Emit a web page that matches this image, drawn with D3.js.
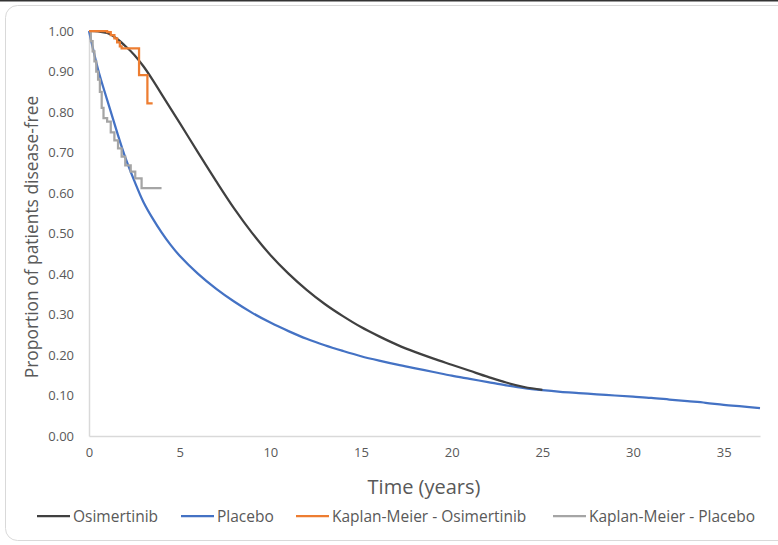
<!DOCTYPE html>
<html><head><meta charset="utf-8">
<script src="https://cdn.jsdelivr.net/npm/d3@7"></script>
<style>body{margin:0;background:#fff}svg{display:block}</style>
</head><body><svg id="c" width="778" height="545"></svg>
<script>
// Modelled curves
const osiTimes = [0,0.5,1,1.5,2,2.5,3,3.5,4,5,6,7,8,9,10,11,12,13,14,15,16,17,18,19,20,21,22,23,24,25];
const osiValues = [1.000,0.999,0.995,0.982,0.963,0.941,0.913,0.880,0.844,0.773,0.701,0.630,0.562,0.501,0.447,0.401,0.361,0.326,0.296,0.269,0.246,0.225,0.207,0.191,0.176,0.161,0.146,0.132,0.121,0.114];
const placeboTimes = [0,0.5,1,1.5,2,2.5,3,3.5,4,4.5,5,6,7,8,9,10,11,12,13,14,15,16,17,18,19,20,21,22,23,24,25,26,27,28,29,30,31,32,33,34,35,36,37];
const placeboValues = [1.000,0.905,0.830,0.757,0.688,0.630,0.578,0.538,0.503,0.472,0.445,0.401,0.364,0.332,0.304,0.280,0.259,0.240,0.224,0.210,0.197,0.186,0.176,0.167,0.158,0.149,0.141,0.133,0.125,0.118,0.113,0.109,0.106,0.103,0.100,0.097,0.094,0.090,0.086,0.082,0.077,0.073,0.069];
// Kaplan-Meier step data
const kmOsiTimes = [0,1.0,1.2,1.4,1.55,1.7,1.8,2.76,3.22,3.51];
const kmOsiValues = [1.000,0.997,0.990,0.982,0.972,0.962,0.957,0.891,0.821,0.821];
const kmPlaTimes = [0,0.1,0.2,0.3,0.4,0.5,0.6,0.7,0.8,1.0,1.2,1.4,1.6,1.8,2.0,2.3,2.55,2.9,4.0];
const kmPlaValues = [1.000,0.975,0.950,0.925,0.900,0.880,0.850,0.810,0.785,0.776,0.750,0.730,0.710,0.690,0.668,0.653,0.636,0.612,0.612];
const xTicks = [0,5,10,15,20,25,30,35];
const yTicks = [0,0.1,0.2,0.3,0.4,0.5,0.6,0.7,0.8,0.9,1.0];
const seriesNames = ["Osimertinib","Placebo","Kaplan-Meier - Osimertinib","Kaplan-Meier - Placebo"];
const colors = ["#404040","#4472C4","#ED7D31","#A5A5A5"];

const svg = d3.select("#c");
const font = "'Open Sans', 'Noto Sans', sans-serif";
// frame
svg.append("rect").attr("x",5.5).attr("y",5.5).attr("width",800).attr("height",535).attr("rx",12)
  .attr("fill","#fff").attr("stroke","#d9d9d9").attr("stroke-width",1);
svg.append("line").attr("x1",0).attr("x2",778).attr("y1",0.75).attr("y2",0.75).attr("stroke","#333").attr("stroke-width",1.5);

const x = d3.scaleLinear().domain([0,37]).range([89,760]);
const y = d3.scaleLinear().domain([0,1]).range([436,31]);

// axes
const gx = svg.append("g").attr("transform","translate(0,436)")
  .call(d3.axisBottom(x).tickValues(xTicks).tickSize(0).tickPadding(12).tickFormat(d3.format("d")));
const gy = svg.append("g").attr("transform","translate(89,0)")
  .call(d3.axisLeft(y).tickValues(yTicks).tickSize(0).tickPadding(15).tickFormat(d3.format(".2f")));
[gx,gy].forEach(g=>{
  g.select(".domain").attr("stroke","#d9d9d9").attr("stroke-width",1.5);
  g.selectAll("text").attr("fill","#595959").attr("font-family",font).attr("font-size",13);
});

const toPts = (ts,vs)=>ts.map((t,i)=>[t,vs[i]]);
const smooth = d3.line().x(d=>x(d[0])).y(d=>y(d[1])).curve(d3.curveCatmullRom.alpha(0.5));
const step = d3.line().x(d=>x(d[0])).y(d=>y(d[1])).curve(d3.curveStepAfter);

svg.append("path").attr("d",smooth(toPts(placeboTimes,placeboValues))).attr("fill","none").attr("stroke",colors[1]).attr("stroke-width",2.25);
svg.append("path").attr("d",smooth(toPts(osiTimes,osiValues))).attr("fill","none").attr("stroke",colors[0]).attr("stroke-width",2.25);
svg.append("path").attr("d",step(toPts(kmPlaTimes,kmPlaValues))).attr("fill","none").attr("stroke",colors[3]).attr("stroke-width",2.25);
svg.append("path").attr("d",step(toPts(kmOsiTimes,kmOsiValues))).attr("fill","none").attr("stroke",colors[2]).attr("stroke-width",2.25);

// titles
svg.append("text").attr("x",424).attr("y",494).attr("text-anchor","middle").attr("fill","#595959")
  .attr("font-family",font).attr("font-size",20).text("Time (years)");
svg.append("text").attr("transform","translate(38,237) rotate(-90)").attr("text-anchor","middle").attr("fill","#595959")
  .attr("font-family",font).attr("font-size",17.4).text("Proportion of patients disease-free");

// legend
const legX = [37,181,296,553];
seriesNames.forEach((n,i)=>{
  const g = svg.append("g").attr("transform",`translate(${legX[i]},516)`);
  g.append("line").attr("x1",0).attr("x2",33).attr("y1",0).attr("y2",0).attr("stroke",colors[i]).attr("stroke-width",2.25);
  g.append("text").attr("x",36).attr("y",5.5).attr("fill","#595959").attr("font-family",font).attr("font-size",15.5).text(n);
});
</script></body></html>
